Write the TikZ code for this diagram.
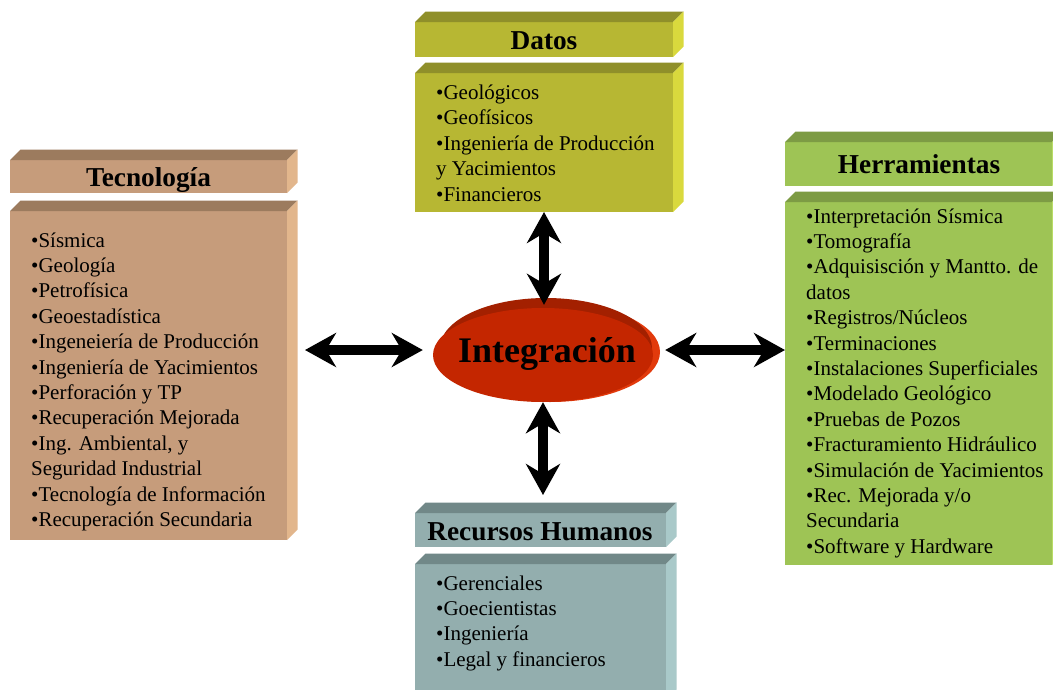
\documentclass[tikz,border=0pt]{standalone}
\usepackage{fontspec}
\setmainfont{Liberation Serif}
\usetikzlibrary{arrows.meta,shapes.geometric,calc}

% face colours: front (F), top (T), side (S)
\definecolor{tecF}{HTML}{C69C7B}\definecolor{tecT}{HTML}{9C7B5E}\definecolor{tecS}{HTML}{E2B68C}
\definecolor{datF}{HTML}{B7B733}\definecolor{datT}{HTML}{8F8F2A}\definecolor{datS}{HTML}{D9D93D}
\definecolor{herF}{HTML}{9EC455}\definecolor{herT}{HTML}{7D9B44}\definecolor{herS}{HTML}{B9DC66}
\definecolor{recF}{HTML}{93AEAE}\definecolor{recT}{HTML}{718888}\definecolor{recS}{HTML}{A9C9C9}
\definecolor{intMain}{HTML}{C42600}
\definecolor{intDark}{HTML}{A32000}
\definecolor{intLight}{HTML}{E23A0C}

\newcommand\slabdepth{10.5}
% \slab{name}{x1}{y1}{x2}{y2}{colour prefix}: a bevelled block, front face named
\newcommand\slab[6]{%
  \node[face, fill=#6F, minimum width={#4-#2}, minimum height={#5-#3}] (#1) at (#2,#3) {};
  \fill[#6T] (#1.north west) -- ([shift={(\slabdepth,-\slabdepth)}]#1.north west)
    -- ([shift={(\slabdepth,-\slabdepth)}]#1.north east) -- (#1.north east) -- cycle;
  \fill[#6S] (#1.north east) -- ([shift={(\slabdepth,-\slabdepth)}]#1.north east)
    -- ([shift={(\slabdepth,-\slabdepth)}]#1.south east) -- (#1.south east) -- cycle;
}
\newcommand\itemlist[1]{\begin{tabular}[t]{@{}l@{}}#1\end{tabular}}

\tikzset{
  face/.style={draw=none, rectangle, inner sep=0pt, outer sep=0pt, anchor=north west},
  head/.style={anchor=base, inner sep=0pt, font=\fontsize{27.3}{30}\selectfont\bfseries},
  items/.style={anchor=base west, inner sep=0pt, font=\fontsize{21}{25.4}\selectfont},
  bigarrow/.style={line width=10pt, {Stealth[length=31pt,width=34pt,inset=10pt]}-{Stealth[length=31pt,width=34pt,inset=10pt]}},
}

\begin{document}
\begin{tikzpicture}[x=1pt, y=-1pt]
\useasboundingbox (0,0) rectangle (1053,689);
\fill[white] (0,0) rectangle (1053,689);

% blocks
\slab{dath}{415}{22}{673}{57}{dat}
\slab{datb}{415}{73}{673}{212}{dat}
\slab{tech}{10}{160}{287}{193}{tec}
\slab{tecb}{10}{211}{287}{540}{tec}
\slab{herh}{785}{142}{1052}{186}{her}
\slab{herb}{785}{202}{1052}{565}{her}
\slab{rech}{415}{513}{666}{547}{rec}
\slab{recb}{415}{564}{666}{700}{rec}

% headings
\node[head] (datt) at (544,49) {Datos};
\node[head] (tect) at (148.5,186.7) {Tecnología};
\node[head] (hert) at (919,173) {Herramientas};
\node[head] (rect) at (540,540) {Recursos Humanos};

% item lists
\node[items] (datl) at (436,99.5) {\itemlist{•Geológicos\\ •Geofísicos\\ •Ingeniería de Producción\\ y Yacimientos\\ •Financieros}};
\node[items] (tecl) at (31,247) {\itemlist{•Sísmica\\ •Geología\\ •Petrofísica\\ •Geoestadística\\ •Ingeneiería de Producción\\ •Ingeniería de Yacimientos\\ •Perforación y TP\\ •Recuperación Mejorada\\ •Ing. Ambiental, y\\ Seguridad Industrial\\ •Tecnología de Información\\ •Recuperación Secundaria}};
\node[items] (herl) at (806,223) {\itemlist{•Interpretación Sísmica\\ •Tomografía\\ •Adquisisción y Mantto. de\\ datos\\ •Registros/Núcleos\\ •Terminaciones\\ •Instalaciones Superficiales\\ •Modelado Geológico\\ •Pruebas de Pozos\\ •Fracturamiento Hidráulico\\ •Simulación de Yacimientos\\ •Rec. Mejorada y/o\\ Secundaria\\ •Software y Hardware}};
\node[items] (recl) at (436,590) {\itemlist{•Gerenciales\\ •Goecientistas\\ •Ingeniería\\ •Legal y financieros}};

% central disc with its bevelled rim
\fill[intLight] (550,352) ellipse [x radius=110, y radius=50];
\fill[intDark] (546,348) ellipse [x radius=106, y radius=50];
\node[ellipse, fill=intMain, minimum width=220, minimum height=94, inner sep=0pt] (integ) at (543,355) {};
\node[anchor=base, inner sep=0pt, font=\fontsize{36}{40}\selectfont\bfseries] (integt) at (547,362.7) {Integración};

% connectors
\draw[bigarrow, shorten >=3pt] (datb.south) -- (datb.south |- integ.north);
\draw[bigarrow, shorten >=18pt] (integ.south) -- (integ.south |- rech.north);
\draw[bigarrow, shorten <=10pt, shorten >=18pt] ([yshift=5pt]integ.west) -- ([yshift=5pt]integ.west -| tech.east);
\draw[bigarrow, shorten <=12pt] ([yshift=5pt]integ.east) -- ([yshift=5pt]integ.east -| herb.west);
\end{tikzpicture}
\end{document}
